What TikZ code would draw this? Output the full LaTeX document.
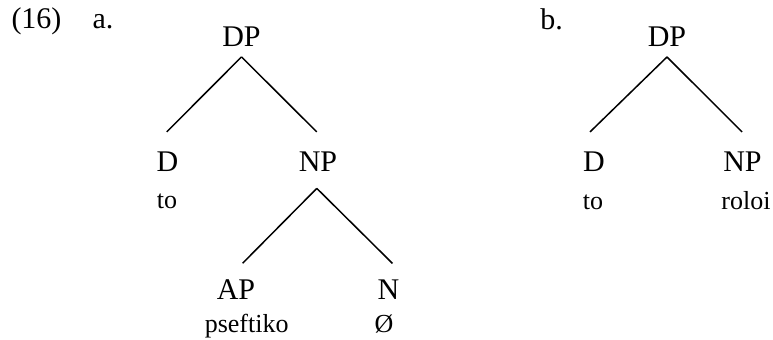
\documentclass[tikz,border=0pt]{standalone}
\usepackage{fontspec}
\setmainfont{Liberation Serif}
\usepackage{tikz}
\usetikzlibrary{calc, positioning}

\begin{document}
\begin{tikzpicture}[x=0.5pt, y=-0.5pt,
		exnum/.style={font=\fontsize{15}{18}\selectfont, inner sep=0pt, anchor=base},
		cat/.style={font=\fontsize{15}{18}\selectfont, inner sep=0pt, anchor=base},
		word/.style={font=\fontsize{13}{15}\selectfont, inner sep=0pt, anchor=base},
		branch/.style={line width=0.75pt}]
		\useasboundingbox (0,0) rectangle (773,340);
		\node[exnum] (num) at (36.5,29) {(16)};
		\node[exnum] (exa) at (103,29) {a.};
		\node[exnum] (exb) at (551.5,30) {b.};
		\node[cat] (dpa) at (241.5,46.5) {DP};
		\node[cat] (da) at (167.5,172) {D};
		\node[word] (toa) at (167,209) {to};
		\node[cat] (npa) at (318,172) {NP};
		\node[cat] (apa) at (236,299.5) {AP};
		\node[word] (pseftiko) at (246.7,332.5) {pseftiko};
		\node[cat] (na) at (388.5,299.5) {N};
		\node[word] (empty) at (384,332.5) {Ø};
		\node[cat] (dpb) at (667,47) {DP};
		\node[cat] (db) at (594,172) {D};
		\node[word] (tob) at (593,209.5) {to};
		\node[cat] (npb) at (742.5,172) {NP};
		\node[word] (roloi) at (746,209.5) {roloi};
		\draw[branch] ([yshift=-5.2pt]dpa.base) -- ([xshift=-0.4pt, yshift=10pt]da.north);
		\draw[branch] ([yshift=-5.2pt]dpa.base) -- ([xshift=-0.6pt, yshift=10pt]npa.north);
		\draw[branch] ([xshift=-0.6pt, yshift=-8.2pt]npa.base) -- ([xshift=3.3pt, yshift=8pt]apa.north);
		\draw[branch] ([xshift=-0.6pt, yshift=-8.2pt]npa.base) -- ([xshift=2pt, yshift=8pt]na.north);
		\draw[branch] ([yshift=-5pt]dpb.base) -- ([xshift=-2pt, yshift=10pt]db.north);
		\draw[branch] ([yshift=-5pt]dpb.base) -- ([xshift=-0.2pt, yshift=10pt]npb.north);
	\end{tikzpicture}
\end{document}
